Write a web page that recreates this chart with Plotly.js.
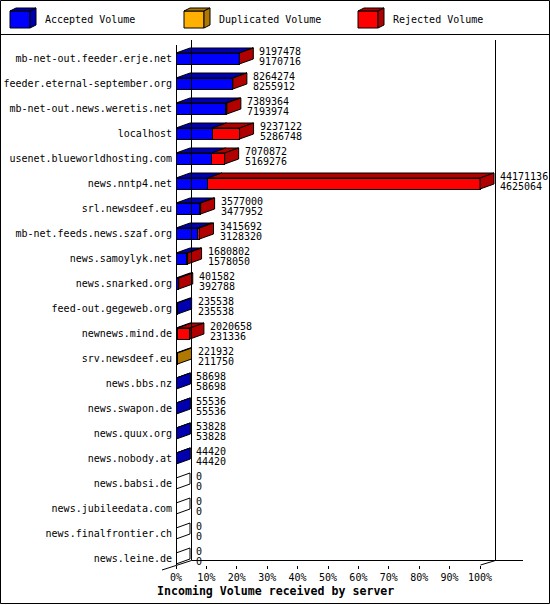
<!DOCTYPE html>
<html>
<head>
<meta charset="utf-8">
<script src="https://cdn.plot.ly/plotly-3.0.1.min.js"></script>
<style>html,body{margin:0;padding:0;background:#fff}#chart{width:550px;height:605px}</style>
</head>
<body>
<div id="chart"></div>
<script>
// ---- data ----
const hosts = [
  "mb-net-out.feeder.erje.net","feeder.eternal-september.org","mb-net-out.news.weretis.net",
  "localhost","usenet.blueworldhosting.com","news.nntp4.net","srl.newsdeef.eu",
  "mb-net.feeds.news.szaf.org","news.samoylyk.net","news.snarked.org","feed-out.gegeweb.org",
  "newnews.mind.de","srv.newsdeef.eu","news.bbs.nz","news.swapon.de","news.quux.org",
  "news.nobody.at","news.babsi.de","news.jubileedata.com","news.finalfrontier.ch","news.leine.de"
];
const totalVol    = [9197478,8264274,7389364,9237122,7070872,44171136,3577000,3415692,1680802,401582,235538,2020658,221932,58698,55536,53828,44420,0,0,0,0];
const acceptedVol = [9170716,8255912,7193974,5286748,5169276,4625064,3477952,3128320,1578050,392788,235538,231336,211750,58698,55536,53828,44420,0,0,0,0];
const duplicatedVol=[0,0,0,0,0,0,0,0,0,0,0,0,10182,0,0,0,0,0,0,0,0];
const rejectedVol = [26762,8362,195390,3950374,1901596,39546072,99048,287372,102752,8794,0,1789322,0,0,0,0,0,0,0,0,0];
const tickFractions = [0,0.1,0.2,0.3,0.4,0.5,0.6,0.7,0.8,0.9,1.0];
const tickLabels = ["0%","10%","20%","30%","40%","50%","60%","70%","80%","90%","100%"];
const legendNames = ["Accepted Volume","Duplicated Volume","Rejected Volume"];

// ---- styles / geometry ----
const W = 550, H = 605;
const M = {l:176, r:27, t:40, b:40};
const plotW = W - M.l - M.r, plotH = H - M.t - M.b;
const maxTotal = Math.max(...totalVol);
const frontPx = 304;                        // pixels for 100% on the front plane
const xMax = maxTotal * plotW / frontPx;
const pxX = maxTotal / frontPx;             // data units per pixel
const DX = 14 * pxX;                        // depth offset (x)
const rowPx = 25;
const DY = 5 / rowPx;                       // depth offset (y, rows)
const BARH = 11 / rowPx;
const yTopPad = 18.5 / rowPx, yBotPad = 6.5 / rowPx;
const n = hosts.length;
const idx = hosts.map((_, i) => i);

const front = ["#0000ff", "#ffb000", "#ff0000"];
const dark  = ["#0000b0", "#b07800", "#b00000"];
const FONT = "DejaVu Sans Mono, monospace";

const segs = [acceptedVol, duplicatedVol, rejectedVol];

const traces = [];
segs.forEach((arr, k) => {
  traces.push({
    type: "bar", orientation: "h", y: idx, x: arr, width: BARH,
    marker: {color: front[k], line: {color: "#000", width: 1}},
    hoverinfo: "skip", showlegend: false, name: legendNames[k]
  });
});

// top faces per colour, side faces per colour
const topX = [[],[],[]], topY = [[],[],[]];
const sideX = [[],[],[],[]], sideY = [[],[],[],[]];
for (let i = 0; i < n; i++) {
  const t = i - BARH/2, b = i + BARH/2;
  let s = 0, last = 3;
  for (let k = 0; k < 3; k++) {
    const w = segs[k][i];
    if (w > 0) {
      const e = s + w;
      topX[k].push(s, e, e+DX, s+DX, s, null);
      topY[k].push(t, t, t-DY, t-DY, t, null);
      s = e; last = k;
    }
  }
  if (s === 0) { // empty row: degenerate top line
    sideX[3].push(0, 0, DX, DX, 0, null);
    sideY[3].push(t, b, b-DY, t-DY, t, null);
  } else {
    sideX[last].push(s, s, s+DX, s+DX, s, null);
    sideY[last].push(t, b, b-DY, t-DY, t, null);
  }
}
for (let k = 0; k < 3; k++) {
  if (topX[k].length) traces.push({type:"scatter", mode:"lines", x: topX[k], y: topY[k], fill:"toself",
    fillcolor: dark[k], line:{color:"#000", width:1}, hoverinfo:"skip", showlegend:false});
}
for (let k = 0; k < 4; k++) {
  if (sideX[k].length) traces.push({type:"scatter", mode:"lines", x: sideX[k], y: sideY[k], fill:"toself",
    fillcolor: k < 3 ? dark[k] : "#ffffff", line:{color:"#000", width:1}, hoverinfo:"skip", showlegend:false});
}

// ---- helpers for paper coords from pixels ----
const PX = x => (x - M.l) / plotW;
const PY = y => 1 - (y - M.t) / plotH;
const line = (x0,y0,x1,y1) => ({type:"line", xref:"paper", yref:"paper", x0:PX(x0), y0:PY(y0), x1:PX(x1), y1:PY(y1),
  line:{color:"#000", width:1}, layer:"above"});
const poly = (pts, fill) => ({type:"path", xref:"paper", yref:"paper",
  path: "M" + pts.map(p => PX(p[0]) + "," + PY(p[1])).join("L") + "Z",
  fillcolor: fill, line:{color:"#000", width:1}, layer:"above"});

const shapes = [
  {type:"rect", xref:"paper", yref:"paper", x0:PX(0.5), x1:PX(549.5), y0:PY(0.5), y1:PY(603.5), line:{color:"#000", width:1}, layer:"below"},
  line(0, 34.5, 550, 34.5),
  line(176.5, 45, 176.5, 565),
  line(191.5, 40, 191.5, 560.5),
  line(495.5, 40, 495.5, 560.5),
  line(191.5, 560.5, 523, 560.5),
  line(162, 570, 191.5, 560.5),
  line(480.5, 565, 495.5, 560.5)
];
// legend cubes
const legX = [10, 184, 358], legTextX = [43, 217, 391];
for (let k = 0; k < 3; k++) {
  const x0 = legX[k], x1 = x0 + 20, y0 = 11, y1 = 28, d = 6, dy = 3;
  shapes.push(poly([[x0,y0],[x1,y0],[x1,y1],[x0,y1]], front[k]));
  shapes.push(poly([[x0,y0],[x0+d,y0-dy],[x1+d,y0-dy],[x1,y0]], dark[k]));
  shapes.push(poly([[x1,y0],[x1+d,y0-dy],[x1+d,y1-dy],[x1,y1]], dark[k]));
}

const annotations = [];
for (let k = 0; k < 3; k++) {
  annotations.push({xref:"paper", yref:"paper", x:PX(legTextX[k]), y:PY(20), xanchor:"left", yanchor:"middle",
    text: legendNames[k], showarrow:false, font:{family:FONT, size:10, color:"#000"}});
}
for (let i = 0; i < n; i++) {
  const ax = totalVol[i] + DX, ay = i - DY/2;
  annotations.push({xref:"x", yref:"y", x: ax, y: ay, xanchor:"left", yanchor:"middle", xshift:4, yshift:5,
    text: String(totalVol[i]), showarrow:false, font:{family:FONT, size:10, color:"#000"}});
  annotations.push({xref:"x", yref:"y", x: ax, y: ay, xanchor:"left", yanchor:"middle", xshift:4, yshift:-5,
    text: String(acceptedVol[i]), showarrow:false, font:{family:FONT, size:10, color:"#000"}});
}
annotations.push({xref:"paper", yref:"paper", x:PX(155), y:PY(591), xanchor:"left", yanchor:"middle",
  text:"<b>Incoming Volume received by server</b>", showarrow:false, font:{family:FONT, size:11.6, color:"#000"}});

const layout = {
  width: W, height: H, margin: M,
  paper_bgcolor: "#fff", plot_bgcolor: "#fff",
  barmode: "stack", showlegend: false,
  xaxis: {range:[0, xMax], tickvals: tickFractions.map(f => f * maxTotal), ticktext: tickLabels,
    ticks:"outside", ticklen:3, tickcolor:"#000", tickwidth:1, showline:false, showgrid:false, zeroline:false,
    tickfont:{family:FONT, size:10, color:"#000"}, fixedrange:true},
  yaxis: {range:[n - 1 + yBotPad, -yTopPad], tickvals: idx, ticktext: hosts, ticks:"", showline:false,
    showgrid:false, zeroline:false, ticklabelstandoff:3, tickfont:{family:FONT, size:10, color:"#000"}, fixedrange:true},
  shapes: shapes, annotations: annotations,
  font: {family: FONT, size: 10, color:"#000"}
};

Plotly.newPlot("chart", traces, layout, {displayModeBar:false, staticPlot:true});
</script>
</body>
</html>
